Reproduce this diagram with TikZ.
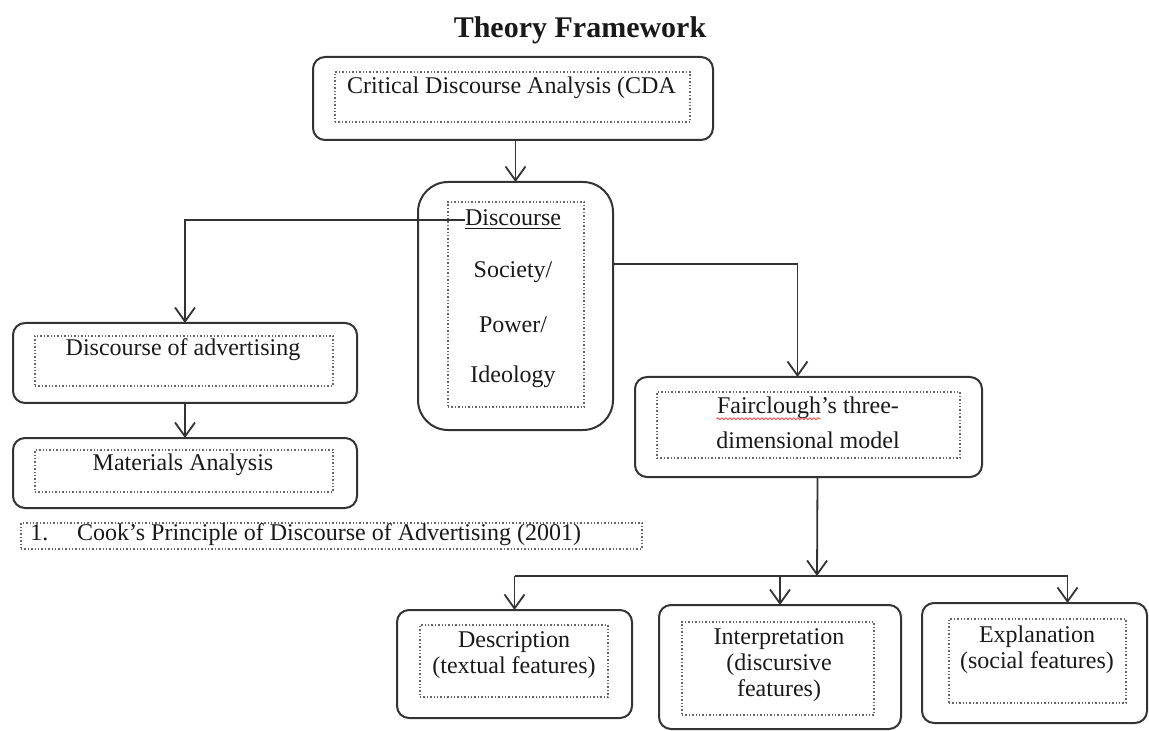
\documentclass[tikz,border=0pt]{standalone}
\usepackage{fontspec}
\setmainfont{Liberation Serif}
\usetikzlibrary{arrows.meta,calc,decorations.pathmorphing}
\newcommand{\clrline}{black!80}
\newcommand{\clrdot}{black!60}

\begin{document}
\begin{tikzpicture}[x=0.5pt,y=-0.5pt,
    outerbox/.style={draw=\clrline, line width=1pt, rounded corners=6pt, inner sep=0pt, outer sep=0pt},
    innerbox/.style={draw=\clrdot, densely dotted, line width=0.7pt, inner sep=0pt, outer sep=0pt},
    txt/.style={font=\fontsize{12}{13}\selectfont, text=black!90, inner sep=0pt, align=center},
    arr/.style={draw=\clrline, line width=0.9pt, -{Straight Barb[length=7pt,width=10pt]}},
    link/.style={draw=\clrline, line width=0.9pt}]
    \useasboundingbox (0,0) rectangle (1149,731);

    % title
    \node[font=\fontsize{15}{18}\selectfont\bfseries, text=black!90] (title) at (580,30) {Theory Framework};

    % Critical Discourse Analysis
    \node[outerbox, minimum width=200pt, minimum height=41.5pt] (cdaO) at (513,98.5) {};
    \node[innerbox, minimum width=177.5pt, minimum height=25pt] (cdaI) at (512.5,97) {};
    \node[txt] (cdaT) at (511.5,88) {Critical Discourse Analysis (CDA};

    % Discourse / Society / Power / Ideology
    \node[outerbox, rounded corners=15pt, minimum width=97.5pt, minimum height=124pt] (discO) at (515.5,306) {};
    \node[innerbox, minimum width=68pt, minimum height=102.5pt] (discI) at (516,304.5) {};
    \node[txt] (discT) at (513,220) {\underline{Discourse}};
    \node[txt] (soc) at (513,272) {Society/};
    \node[txt] (pow) at (513,325) {Power/};
    \node[txt] (ideo) at (513,377) {Ideology};

    % advertising side
    \node[outerbox, minimum width=172pt, minimum height=40pt] (advO) at (185,363) {};
    \node[innerbox, minimum width=149pt, minimum height=25pt] (advI) at (184,361) {};
    \node[txt] (advT) at (183,350) {Discourse of advertising};

    \node[outerbox, minimum width=172pt, minimum height=35pt] (matO) at (185,473) {};
    \node[innerbox, minimum width=149pt, minimum height=21pt] (matI) at (184,471) {};
    \node[txt] (matT) at (183,465) {Materials Analysis};

    \node[innerbox, minimum width=310.5pt, minimum height=13pt] (cookI) at (331.5,536) {};
    \node[txt, anchor=west] (cookT) at (30,535) {1.\hspace{1.2em}Cook's Principle of Discourse of Advertising (2001)};

    % Fairclough
    \node[outerbox, minimum width=173.5pt, minimum height=50pt] (fairO) at (808.5,427) {};
    \node[innerbox, minimum width=151.5pt, minimum height=33pt] (fairI) at (808.5,425) {};
    \node[txt] (fairA) at (808,408) {Fairclough's three-};
    \node[txt] (fairB) at (808,440) {dimensional model};
    \draw[red!80, line width=0.4pt, decorate, decoration={snake, amplitude=0.5pt, segment length=2pt}]
        ([yshift=-2.5pt]fairA.base west) -- ++(52pt,0);

    % three dimensions
    \node[outerbox, minimum width=117.5pt, minimum height=54pt] (descO) at (514.5,664) {};
    \node[innerbox, minimum width=94pt, minimum height=36pt] (descI) at (514,661) {};
    \node[txt] (descT) at (514,655) {Description\\(textual features)};

    \node[outerbox, minimum width=121pt, minimum height=62pt] (intO) at (780,667) {};
    \node[innerbox, minimum width=96pt, minimum height=46.5pt] (intI) at (778,668.5) {};
    \node[txt] (intT) at (779,665) {Interpretation\\(discursive\\features)};

    \node[outerbox, minimum width=112.5pt, minimum height=60pt] (explO) at (1034.5,663) {};
    \node[innerbox, minimum width=88.5pt, minimum height=42pt] (explI) at (1037.5,661) {};
    \node[txt] (explT) at (1037,649.5) {Explanation\\(social features)};

    % connectors
    \draw[arr] (discO.north |- cdaO.south) -- (discO.north);
    \draw[arr] (discT.west) -| (advO.north);
    \draw[arr] (advO.south) -- (matO.north);
    \draw[arr] ($(discO.north east)!0.33!(discO.south east)$) -| ([xshift=-5.5pt]fairO.north);

    \coordinate (br) at (817,576);
    \draw[arr] ([xshift=4.5pt]fairO.south) -- (br);
    \draw[link] (descO.north |- br) -- ([xshift=16.5pt]explO.north |- br);
    \draw[arr] (descO.north |- br) -- (descO.north);
    \draw[arr] (intO.north |- br) -- (intO.north);
    \draw[arr] ([xshift=16.5pt]explO.north |- br) -- ([xshift=16.5pt]explO.north);
\end{tikzpicture}
\end{document}
